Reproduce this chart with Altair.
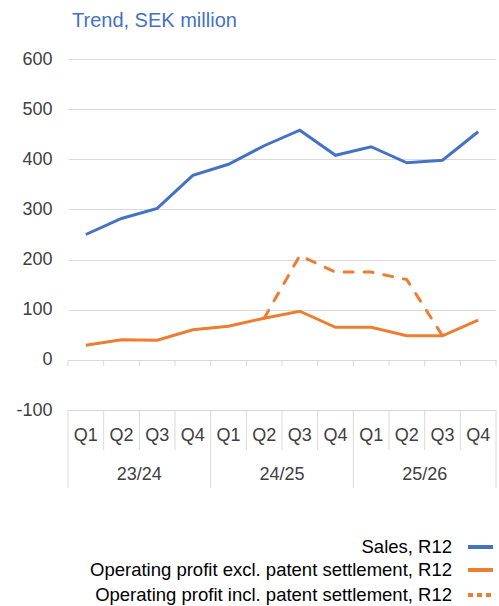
import altair as alt
import pandas as pd

quarters = ["Q1", "Q2", "Q3", "Q4"] * 3
years = ["23/24"] * 4 + ["24/25"] * 4 + ["25/26"] * 4
sales = [250, 282, 302, 368, 390, 427, 458, 408, 425, 393, 398, 455]
op_excl = [29, 40, 39, 60, 67, 83, 97, 65, 65, 48, 48, 79]
op_incl = [None, None, None, None, None, 83, 208, 175, 175, 160, 48, None]

legend_labels = [
    "Sales, R12",
    "Operating profit excl. patent settlement, R12",
    "Operating profit incl. patent settlement, R12",
]
BLUE = "#4472C4"
ORANGE = "#ED7D31"
FONT = "Liberation Sans"
GRID = "#D9D9D9"
TXT = "#404040"

idx = list(range(len(quarters)))
df = pd.DataFrame({"i": idx, "quarter": quarters, "year": years,
                   "sales": sales, "excl": op_excl, "incl": op_incl})
bounds = pd.DataFrame({"b": [k - 0.5 for k in range(len(quarters) + 1)]})
bounds["yearb"] = [(k % 4 == 0) for k in range(len(quarters) + 1)]

W, H = 428, 351
xs = alt.Scale(domain=[-0.5, 11.5], nice=False, zero=False)
ys = alt.Scale(domain=[-100, 600], nice=False)

base = alt.Chart(df)
yaxis = alt.Axis(values=list(range(-100, 601, 100)), grid=True, gridColor=GRID,
                 gridWidth=1, domain=False, ticks=False, labelPadding=16,
                 labelExpr="toString(datum.value)",
                 labelFont=FONT, labelFontSize=18, labelColor=TXT, title=None)

sales_line = base.mark_line(color=BLUE, strokeWidth=3).encode(
    x=alt.X("i:Q", scale=xs, axis=None),
    y=alt.Y("sales:Q", scale=ys, axis=yaxis),
)
excl_line = base.mark_line(color=ORANGE, strokeWidth=3).encode(
    x=alt.X("i:Q", scale=xs, axis=None), y=alt.Y("excl:Q", scale=ys))
incl_line = base.transform_filter("isValid(datum.incl)").mark_line(
    color=ORANGE, strokeWidth=3, strokeDash=[9, 11], strokeCap="round").encode(
    x=alt.X("i:Q", scale=xs, axis=None), y=alt.Y("incl:Q", scale=ys))

bchart = alt.Chart(bounds)
zero_ticks = bchart.mark_rule(color=GRID, strokeWidth=1).encode(
    x=alt.X("b:Q", scale=xs, axis=None), y=alt.value(301), y2=alt.value(307))
q_sep = bchart.transform_filter("!datum.yearb").mark_rule(color=GRID).encode(
    x=alt.X("b:Q", scale=xs, axis=None), y=alt.value(351), y2=alt.value(391))
y_sep = bchart.transform_filter("datum.yearb").mark_rule(color=GRID).encode(
    x=alt.X("b:Q", scale=xs, axis=None), y=alt.value(351), y2=alt.value(429))

q_text = base.mark_text(font=FONT, fontSize=18, color=TXT, baseline="middle").encode(
    x=alt.X("i:Q", scale=xs, axis=None), y=alt.value(377), text="quarter:N")
y_text = base.mark_text(font=FONT, fontSize=18, color=TXT, baseline="middle").encode(
    x=alt.X("mean(i):Q", scale=xs, axis=None), y=alt.value(416), text="year:N",
    detail="year:N")

legend_layers = []
leg_colors = [BLUE, ORANGE, ORANGE]
leg_dash = [None, None, [5, 4]]
leg_y = [488, 511, 536]
for lab, col, dash, yy in zip(legend_labels, leg_colors, leg_dash, leg_y):
    ldf = pd.DataFrame({"label": [lab]})
    legend_layers.append(alt.Chart(ldf).mark_text(
        font=FONT, fontSize=18.5, color="#000000", align="right", baseline="middle"
    ).encode(x=alt.value(384), y=alt.value(yy), text="label:N"))
    rule_kw = dict(color=col, strokeWidth=4)
    if dash:
        rule_kw["strokeDash"] = dash
    legend_layers.append(alt.Chart(ldf).mark_rule(**rule_kw).encode(
        x=alt.value(400), x2=alt.value(425), y=alt.value(yy)))

chart = alt.layer(
    zero_ticks, q_sep, y_sep, q_text, y_text,
    sales_line, excl_line, incl_line, *legend_layers
).properties(
    width=W, height=H,
    background="white",
    autosize=alt.AutoSizeParams(type="none"),
    padding={"left": 68, "top": 59, "right": 3, "bottom": 196},
    title=alt.Title("Trend, SEK million", anchor="start", frame="group",
                    font=FONT, fontSize=20, fontWeight="normal", color=BLUE,
                    offset=19, dx=4),
).configure_view(stroke="transparent", strokeWidth=0)

chart.save("out.html", embed_options={"renderer": "svg", "actions": False})
